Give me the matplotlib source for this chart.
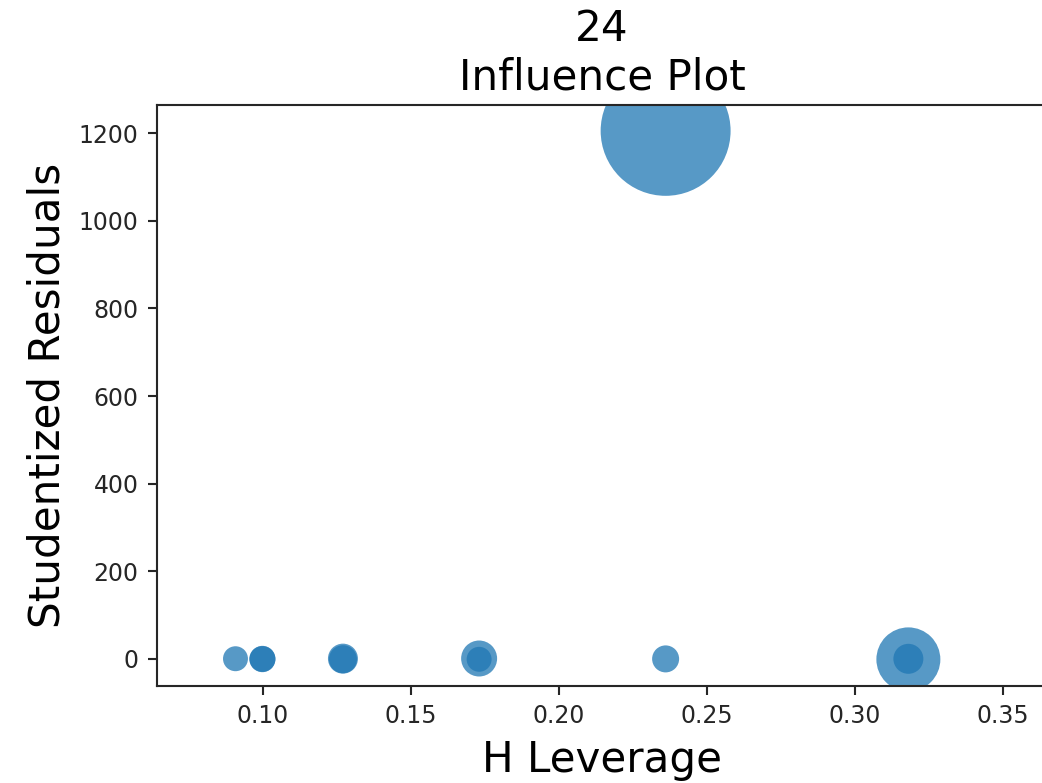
import numpy as np
import matplotlib
matplotlib.use("Agg")
import matplotlib.pyplot as plt

# Leverage, studentized residuals and Cook's distance per observation
leverage = [0.0907, 0.0998, 0.0998, 0.1270, 0.1270, 0.1730, 0.1730, 0.2360, 0.2360, 0.3180, 0.3180]
student_resid = [0.6, -0.4, 0.3, 0.8, -0.5, 1.1, -0.7, 1205.0, 0.2, -0.9, 0.4]
cooks_d = [0.010, 0.026, 0.026, 0.090, 0.057, 0.204, 0.010, 4.700, 0.041, 1.011, 0.090]

x_ticks = [0.10, 0.15, 0.20, 0.25, 0.30, 0.35]
y_ticks = [0, 200, 400, 600, 800, 1000, 1200]

dpi = 189
fig = plt.figure(figsize=(1042 / dpi, 783 / dpi), dpi=dpi)
ax = fig.add_axes([0.1507, 0.1239, 0.8543, 0.7420])

# marker area scaled linearly with Cook's distance, as in statsmodels' influence plot
c = np.asarray(cooks_d)
min_size, max_size = 9.5, 49.5
psize = (c - c.min()) * (max_size ** 2 - min_size ** 2) / np.ptp(c) + min_size ** 2

ax.scatter(leverage, student_resid, s=psize, alpha=0.75, color="#1f77b4", linewidths=0)

ax.set_xlim(0.0642, 0.3649)
ax.set_ylim(-61.6, 1264)
ax.set_xticks(x_ticks)
ax.set_xticklabels([f"{t:.2f}" for t in x_ticks])
ax.set_yticks(y_ticks)
ax.tick_params(labelsize=9, colors="#262626", labelcolor="#262626")
for sp in ax.spines.values():
    sp.set_color("#262626")

ax.set_xlabel("H Leverage", fontsize=16)
ax.set_ylabel("Studentized Residuals", fontsize=16)
ax.set_title("24\nInfluence Plot", fontsize=16)

fig.savefig("out.png", dpi=dpi)
